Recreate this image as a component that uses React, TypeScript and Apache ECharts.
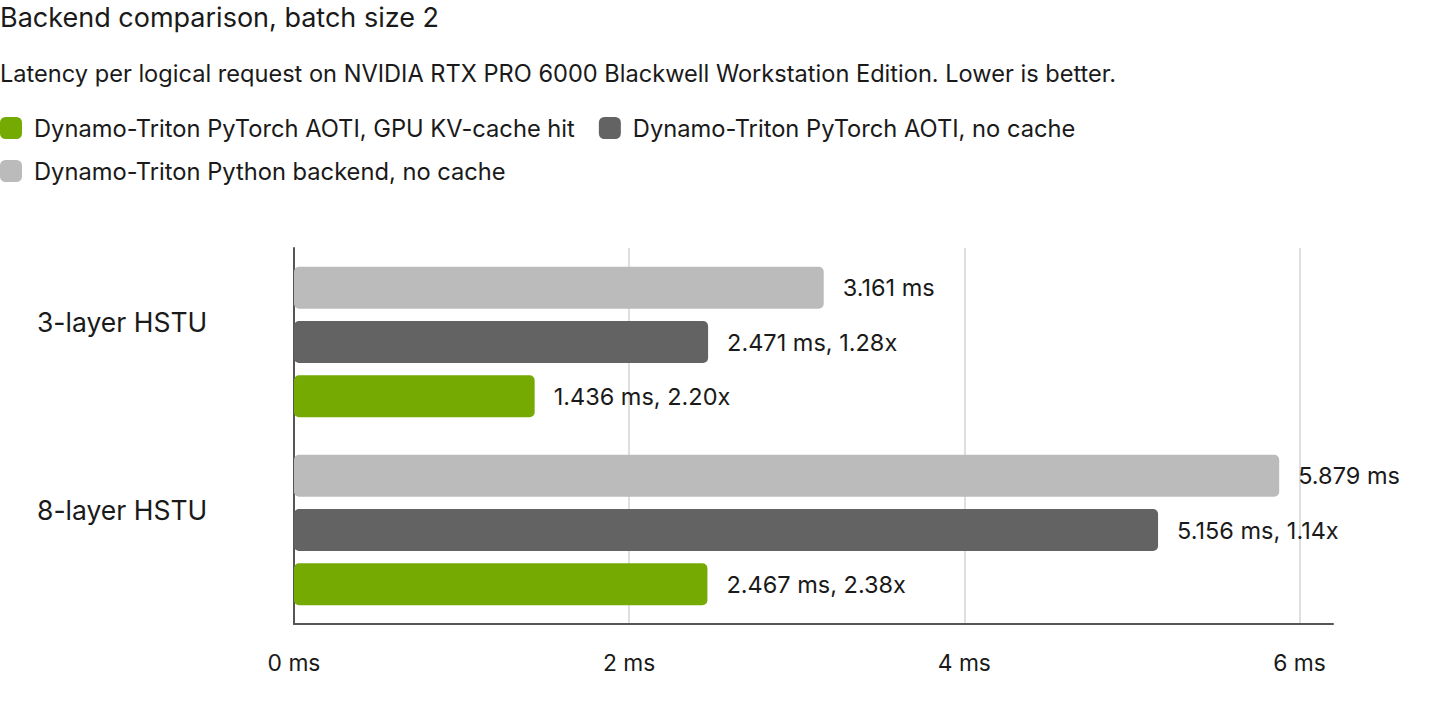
import * as echarts from 'echarts';
import { useEffect, useRef } from 'react';

const categories = ['3-layer HSTU', '8-layer HSTU'];
const pythonNoCache = [3.161, 5.879];
const aotiNoCache = [2.471, 5.156];
const aotiCacheHit = [1.436, 2.467];
const aotiNoCacheSpeedup = ['1.28x', '1.14x'];
const aotiCacheHitSpeedup = ['2.20x', '2.38x'];

const seriesNames = {
  python: 'Dynamo-Triton Python backend, no cache',
  aoti: 'Dynamo-Triton PyTorch AOTI, no cache',
  cache: 'Dynamo-Triton PyTorch AOTI, GPU KV-cache hit',
};

const FONT = 'Inter, "Noto Sans", sans-serif';
const TEXT = '#1a1a1a';

function App() {
  const chartRef = useRef(null);

  useEffect(() => {
    const myChart = echarts.init(chartRef.current, null, { renderer: 'svg' });

    const labelStyle = {
      show: true,
      position: 'right' as const,
      distance: 19,
      color: TEXT,
      fontSize: 23.5,
      fontFamily: FONT,
    };

    const option = {
      animation: false,
      textStyle: { fontFamily: FONT },
      title: [
        {
          text: 'Backend comparison, batch size 2',
          left: 0,
          top: 4,
          padding: 0,
          textStyle: { fontSize: 27, fontWeight: 'normal', color: TEXT, fontFamily: FONT },
        },
        {
          text: 'Latency per logical request on NVIDIA RTX PRO 6000 Blackwell Workstation Edition. Lower is better.',
          left: 0,
          top: 61,
          padding: 0,
          textStyle: { fontSize: 23.6, fontWeight: 'normal', color: TEXT, fontFamily: FONT },
        },
      ],
      legend: {
        data: [seriesNames.cache, seriesNames.aoti, seriesNames.python],
        left: 0,
        top: 116,
        width: 1140,
        padding: 0,
        itemWidth: 22,
        itemHeight: 22,
        itemGap: 19,
        icon: 'roundRect',
        textStyle: {
          fontSize: 23.7,
          color: TEXT,
          fontFamily: FONT,
          padding: [0, 5, 0, 7],
          lineHeight: 22,
        },
      },
      grid: {
        left: 294,
        right: 107,
        top: 248,
        bottom: 96,
      },
      xAxis: {
        type: 'value',
        min: 0,
        max: 6.2,
        interval: 2,
        axisLine: { show: true, lineStyle: { color: '#555555', width: 2 } },
        axisTick: { show: false },
        splitLine: { show: true, showMinLine: false, showMaxLine: false, lineStyle: { color: '#d4d4d4', width: 1.5 } },
        axisLabel: {
          margin: 27,
          fontSize: 22.8,
          color: TEXT,
          fontFamily: FONT,
          showMaxLabel: false,
          formatter: (v: number) => (v % 2 === 0 ? `${v} ms` : ''),
        },
      },
      yAxis: {
        type: 'category',
        inverse: true,
        data: categories,
        axisLine: { show: true, lineStyle: { color: '#555555', width: 2 } },
        axisTick: { show: false },
        axisLabel: {
          align: 'left',
          verticalAlign: 'bottom',
          lineHeight: 40,
          margin: 257,
          fontSize: 26.5,
          color: TEXT,
          fontFamily: FONT,
        },
      },
      series: [
        {
          name: seriesNames.python,
          type: 'bar',
          barWidth: 42,
          barGap: '29%',
          itemStyle: { color: '#bbbbbb', borderRadius: 5 },
          label: { ...labelStyle, formatter: (p: any) => `${p.value} ms` },
          data: pythonNoCache,
        },
        {
          name: seriesNames.aoti,
          type: 'bar',
          barWidth: 42,
          barGap: '29%',
          itemStyle: { color: '#636363', borderRadius: 5 },
          label: { ...labelStyle, formatter: (p: any) => `${p.value} ms, ${aotiNoCacheSpeedup[p.dataIndex]}` },
          data: aotiNoCache,
        },
        {
          name: seriesNames.cache,
          type: 'bar',
          barWidth: 42,
          barGap: '29%',
          itemStyle: { color: '#74aa02', borderRadius: 5 },
          label: { ...labelStyle, formatter: (p: any) => `${p.value} ms, ${aotiCacheHitSpeedup[p.dataIndex]}` },
          data: aotiCacheHit,
        },
      ],
    };

    myChart.setOption(option);

    return () => {
      myChart.dispose();
    };
  }, []);

  return (
    <div
      ref={chartRef}
      style={{ position: 'fixed', left: 0, top: 0, width: '1440px', height: '720px', background: '#ffffff' }}
    ></div>
  );
}

export default App;
